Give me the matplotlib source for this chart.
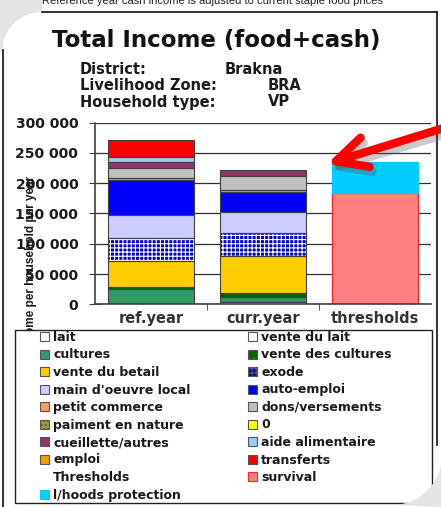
import numpy as np
import matplotlib
matplotlib.use("Agg")
import matplotlib.pyplot as plt
from matplotlib.patches import Patch, Rectangle, PathPatch
from matplotlib.path import Path
from matplotlib.ticker import FuncFormatter, FixedLocator

plt.rcParams['font.family'] = ['DejaVu Sans']
plt.rcParams['hatch.linewidth'] = 0.8

# ---------------- data ----------------
categories = ['ref.year', 'curr.year', 'thresholds']
sources = ['lait', 'vente du lait', 'cultures', 'vente des cultures',
           'vente du betail', 'exode', "main d'oeuvre local", 'auto-emploi',
           'petit commerce', 'dons/versements', 'paiment en nature', '0',
           'cueillette/autres', 'aide alimentaire', 'emploi', 'transferts']
ref_vals = [1000, 0, 23800, 4500, 41700, 38900, 37800, 57800,
            3300, 16700, 0, 0, 9400, 8300, 0, 27800]
curr_vals = [4300, 0, 7800, 6100, 61000, 38900, 35000, 31700,
             3300, 24400, 0, 0, 10000, 0, 0, 0]
threshold_labels = ['survival', 'l/hoods protection']
threshold_vals = [184400, 50000]
yticks = [0, 50000, 100000, 150000, 200000, 250000, 300000]

# ---------------- styles ----------------
src_colors = ['#FFFFFF', '#FFFFFF', '#339966', '#006600',
              '#FFCC00', '#0000CC', '#CCCCFF', '#0000FF',
              '#FF9966', '#C0C0C0', '#999933', '#FFFF00',
              '#993366', '#99CCFF', '#FF9900', '#FF0000']
src_hatch = [None, None, None, '..', None, '++++', None, None,
             None, None, '....', None, None, None, None, None]
thr_colors = ['#FF8080', '#00CCFF']
thr_edges = ['#FF2020', '#00CCFF']
edge = '#404040'

W, H = 441, 507
fig = plt.figure(figsize=(W / 100, H / 100), dpi=100)
fig.patch.set_facecolor('white')

ax = fig.add_axes([95 / W, 1 - 304.3 / H, (431 - 95) / W, (304.3 - 122.6) / H])
ax.set_facecolor('white')
bw = 0.77
x = np.arange(len(categories))

for xi, vals in ((x[0], ref_vals), (x[1], curr_vals)):
    bottom = 0
    for v, c, h in zip(vals, src_colors, src_hatch):
        if v > 0:
            if h:
                ax.bar(xi, v, bw, bottom=bottom, color=c, hatch=h,
                       edgecolor='white', linewidth=0, zorder=2)
            else:
                ax.bar(xi, v, bw, bottom=bottom, color=c, linewidth=0, zorder=2)
            ax.bar(xi, v, bw, bottom=bottom, fill=False, edgecolor=edge,
                   linewidth=0.8, zorder=3)
            bottom += v

bottom = 0
for v, c, e in zip(threshold_vals, thr_colors, thr_edges):
    ax.bar(x[2], v, bw, bottom=bottom, color=c, edgecolor=e, linewidth=0.9, zorder=2)
    bottom += v

ax.set_xlim(-0.5, 2.5)
ax.set_ylim(0, 300000)
ax.set_yticks(yticks)
ax.yaxis.set_major_formatter(FuncFormatter(lambda v, p: f"{int(v):,}".replace(',', ' ')))
ax.set_xticks(x)
ax.set_xticklabels(categories)
ax.xaxis.set_minor_locator(FixedLocator([0.5, 1.5]))
ax.tick_params(axis='x', which='major', length=0, pad=5, labelsize=10.5, labelcolor='#333333')
ax.tick_params(axis='x', which='minor', length=4, direction='out', color=edge)
ax.tick_params(axis='y', length=8, direction='inout', color=edge, pad=8,
               labelsize=10, labelcolor='#1a1a1a')
for lab in ax.get_xticklabels() + ax.get_yticklabels():
    lab.set_fontweight('bold')
ax.grid(axis='y', color='#303030', linewidth=0.9)
ax.set_axisbelow(True)
for s in ('top', 'right'):
    ax.spines[s].set_visible(False)
ax.spines['left'].set_color(edge)
ax.spines['left'].set_linewidth(1.2)
ax.spines['bottom'].set_color(edge)
ax.spines['bottom'].set_linewidth(1.2)

# y axis title (partly hidden by legend as in the original)
fig.text(31 / W, 1 - 176 / H, 'Income per household per year', rotation=90,
         ha='center', va='top', fontsize=8.5, fontweight='bold', color='#1a1a1a',
         family='Liberation Sans', zorder=3)

# titles
fig.text(52 / W, 1 - 40 / H, 'Total Income (food+cash)', fontsize=16.5,
         fontweight='bold', va='center', ha='left', color='#111111')
info_keys = ['District:', 'Livelihood Zone:', 'Household type:']
info_vals = ['Brakna', 'BRA', 'VP']
info_x = [225, 268, 268]
for i, (k, v) in enumerate(zip(info_keys, info_vals)):
    yy = 1 - (70 + 16 * i) / H
    fig.text(80 / W, yy, k, fontsize=10.5, fontweight='bold', va='center', color='#1a1a1a')
    fig.text(info_x[i] / W, yy, v, fontsize=10.5, fontweight='bold', va='center', color='#1a1a1a')

# clipped caption line at the very top
fig.text(42 / W, 1 - 1 / H, 'Reference year cash income is adjusted to current staple food prices',
         fontsize=8, va='center', ha='left', family='Liberation Sans', color='#222222')

# ---------------- legend ----------------
fig.patches.append(Rectangle((15 / W, 1 - 503 / H), (432 - 15) / W, (503 - 330) / H,
                             transform=fig.transFigure, facecolor='white',
                             edgecolor='#222222', linewidth=1.0, zorder=4))
items = []
for s, c, h in zip(sources, src_colors, src_hatch):
    items.append((Patch(facecolor=c, edgecolor='#555555', hatch=h, linewidth=0.8), s))
items.append((Patch(facecolor='none', edgecolor='none'), 'Thresholds'))
items.append((Patch(facecolor=thr_colors[0], edgecolor='#FF2020', linewidth=0.8), threshold_labels[0]))
items.append((Patch(facecolor=thr_colors[1], edgecolor=thr_colors[1], linewidth=0.8), threshold_labels[1]))
ordered = items[0::2] + items[1::2]
leg = fig.legend([h for h, _ in ordered], [l for _, l in ordered], ncol=2,
                 loc='upper left', bbox_to_anchor=(40 / W, 1 - 331 / H),
                 prop={'weight': 'bold', 'size': 9},
                 frameon=False,
                 handlelength=0.75, handleheight=0.7, handletextpad=0.3,
                 labelspacing=0.36, columnspacing=4.6, borderpad=0,
                 borderaxespad=0)
for t in leg.get_texts():
    t.set_color('#1a1a1a')
leg.set_zorder(5)

# ---------------- overlay: frame, corners, arrow ----------------
ov = fig.add_axes([0, 0, 1, 1], zorder=10)
ov.set_xlim(0, W)
ov.set_ylim(H, 0)
ov.axis('off')
ov.patch.set_alpha(0)
# chart frame
ov.plot([3, 3], [50, H], color='#111111', lw=1.2)
ov.plot([42, 437], [12, 12], color='#111111', lw=1.2)
ov.plot([437, 437], [12, 445], color='#111111', lw=1.2)


def corner(cx, cy, r, t0, t1, cornerpt):
    t = np.linspace(np.radians(t0), np.radians(t1), 40)
    pts = [(cx + r * np.cos(a), cy + r * np.sin(a)) for a in t]
    pts.append(cornerpt)
    pts.append(pts[0])
    return PathPatch(Path(pts), facecolor='#E4E4E4', edgecolor='none')


ov.add_patch(corner(42, 52, 40, 180, 270, (0, 0)))
ov.add_patch(Rectangle((0, 0), 42, 12, facecolor='#E4E4E4', edgecolor='none'))
ov.add_patch(Rectangle((0, 0), 3, 52, facecolor='#E4E4E4', edgecolor='none'))
ov.add_patch(corner(392, 455, 50, 0, 90, (W, H)))
ov.add_patch(Rectangle((442, 440), 10, 80, facecolor='#E4E4E4', edgecolor='none'))

# red arrow with soft shadow
ov.annotate('', xy=(330, 169), xytext=(450, 133),
            arrowprops=dict(arrowstyle='->,head_length=2.2,head_width=1.1',
                            mutation_scale=10, lw=6, color='#555555', alpha=0.3,
                            shrinkA=0, shrinkB=0, capstyle='round'))
ov.annotate('', xy=(327, 164), xytext=(447, 127),
            arrowprops=dict(arrowstyle='->,head_length=2.2,head_width=1.1',
                            mutation_scale=10, lw=6, color='#FF0000',
                            shrinkA=0, shrinkB=0, capstyle='round'))

fig.savefig('out.png', dpi=100)
